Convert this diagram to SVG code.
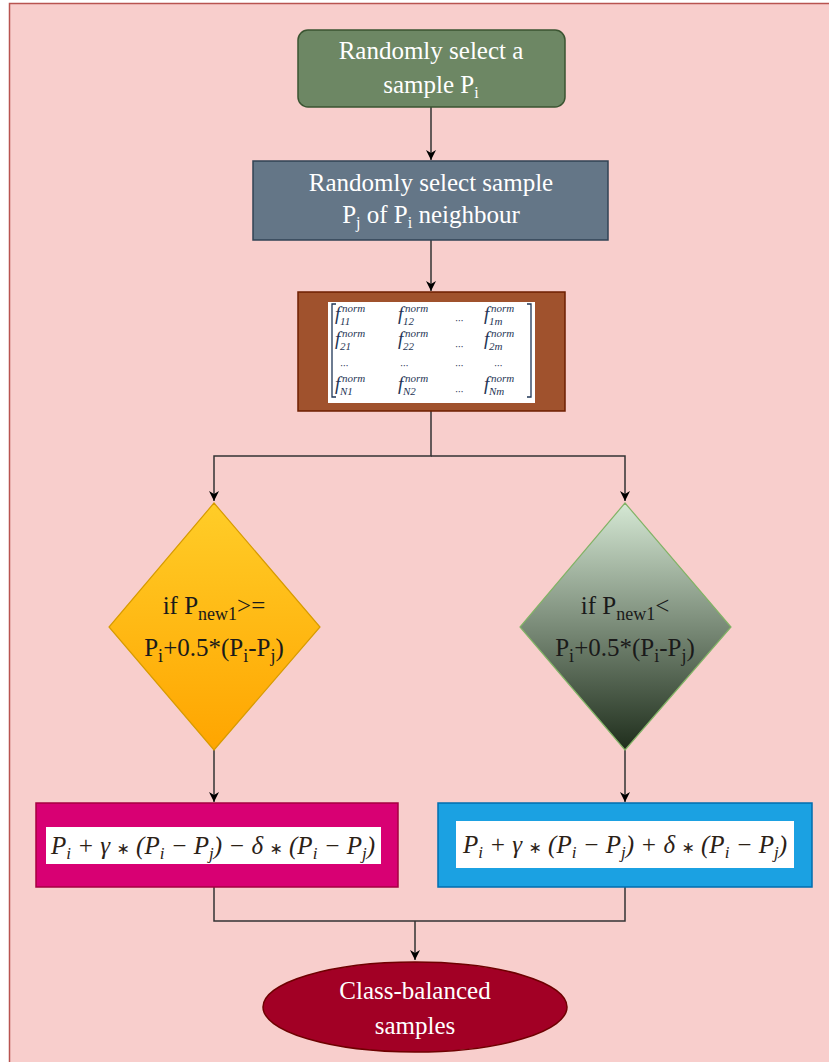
<svg xmlns="http://www.w3.org/2000/svg" width="829" height="1062" viewBox="0 0 829 1062">
<defs>
<linearGradient id="gOrange" x1="0" y1="0" x2="0" y2="1"><stop offset="0" stop-color="#ffcd28"/><stop offset="1" stop-color="#ffa500"/></linearGradient>
<linearGradient id="gGreen" x1="0" y1="0" x2="0" y2="1"><stop offset="0" stop-color="#d5e8d4"/><stop offset="1" stop-color="#1f2e1c"/></linearGradient>
<marker id="arr" viewBox="0 0 10 10" refX="10" refY="5" markerWidth="10" markerHeight="10" markerUnits="userSpaceOnUse" orient="auto"><path d="M0,0 L10,5 L0,10 L3,5 Z" fill="#000"/></marker>
<style>
.lbl{font-family:"Liberation Serif","Times New Roman",serif;font-size:25px;fill:#fff;text-anchor:middle}
.dl{font-family:"Liberation Serif","Times New Roman",serif;font-size:25px;fill:#1a1a1a;text-anchor:middle}
.math{font-family:"Liberation Serif",serif;font-style:italic;font-size:25px;fill:#2b2116}
.op{font-family:"DejaVu Sans",sans-serif;font-style:normal;font-size:16px}
.mx{font-family:"Liberation Serif",serif;font-style:italic;fill:#1f3656;font-size:19px}
.sm{font-size:11px}
.conn{fill:none;stroke:#333;stroke-width:1.5}
</style>
</defs>
<rect x="0" y="0" width="829" height="1062" fill="#fff"/>
<rect x="9.5" y="3.5" width="830" height="1070" fill="#f8cecc" stroke="#b85450" stroke-width="1.5"/>

<g id="connectors">
<path class="conn" d="M431,107 V160" marker-end="url(#arr)"/>
<path class="conn" d="M431,240 V291" marker-end="url(#arr)"/>
<path class="conn" d="M431,411 V456 H214 V501" marker-end="url(#arr)"/>
<path class="conn" d="M431,456 H625 V501" marker-end="url(#arr)"/>
<path class="conn" d="M214,750 V802" marker-end="url(#arr)"/>
<path class="conn" d="M625,750 V802" marker-end="url(#arr)"/>
<path class="conn" d="M214,887 V921 H625 V887"/>
<path class="conn" d="M415,921 V960" marker-end="url(#arr)"/>
</g>

<g id="n1">
<rect x="298" y="30" width="267" height="77" rx="10" fill="#6d8764" stroke="#3a5431" stroke-width="1.5"/>
<text class="lbl" x="431" y="59">Randomly select a</text>
<text class="lbl" x="431" y="93">sample P<tspan font-size="16" dy="5">i</tspan></text>
</g>

<g id="n2">
<rect x="253" y="161" width="355" height="79" fill="#647687" stroke="#314354" stroke-width="1.5"/>
<text class="lbl" x="431" y="191">Randomly select sample</text>
<text class="lbl" x="431" y="223">P<tspan font-size="16" dy="5">j</tspan><tspan dy="-5"> of P</tspan><tspan font-size="16" dy="5">i</tspan><tspan dy="-5"> neighbour</tspan></text>
</g>

<g id="n3">
<rect x="298" y="292" width="267" height="119" fill="#a0522d" stroke="#6d1f00" stroke-width="1.5"/>
<rect x="328" y="302" width="207" height="101" fill="#fff"/>
<path d="M336,304 H332 V397 H336" fill="none" stroke="#1f3656" stroke-width="1.3"/>
<path d="M527,304 H531 V397 H527" fill="none" stroke="#1f3656" stroke-width="1.3"/>
<g class="mx">
<text x="335" y="320">f</text><text class="sm" x="342" y="312">norm</text><text class="sm" x="340" y="325">11</text>
<text x="398" y="320">f</text><text class="sm" x="405" y="312">norm</text><text class="sm" x="403" y="325">12</text>
<text class="sm" x="455" y="324">···</text>
<text x="484" y="320">f</text><text class="sm" x="491" y="312">norm</text><text class="sm" x="489" y="325">1m</text>
<text x="335" y="345">f</text><text class="sm" x="342" y="337">norm</text><text class="sm" x="340" y="350">21</text>
<text x="398" y="345">f</text><text class="sm" x="405" y="337">norm</text><text class="sm" x="403" y="350">22</text>
<text class="sm" x="455" y="350">···</text>
<text x="484" y="345">f</text><text class="sm" x="491" y="337">norm</text><text class="sm" x="489" y="350">2m</text>
<text class="sm" x="340" y="369">···</text>
<text class="sm" x="400" y="369">···</text>
<text class="sm" x="455" y="369">···</text>
<text class="sm" x="494" y="369">···</text>
<text x="335" y="390">f</text><text class="sm" x="342" y="382">norm</text><text class="sm" x="340" y="395">N1</text>
<text x="398" y="390">f</text><text class="sm" x="405" y="382">norm</text><text class="sm" x="403" y="395">N2</text>
<text class="sm" x="455" y="395">···</text>
<text x="484" y="390">f</text><text class="sm" x="491" y="382">norm</text><text class="sm" x="489" y="395">Nm</text>
</g>
</g>

<g id="n4">
<polygon points="214,503 320,627 214,750 109,627" fill="url(#gOrange)" stroke="#d79b00" stroke-width="1.2"/>
<text class="dl" x="214" y="614">if P<tspan font-size="18" dy="6">new1</tspan><tspan dy="-6">&gt;=</tspan></text>
<text class="dl" x="214" y="656">P<tspan font-size="18" dy="6">i</tspan><tspan dy="-6">+0.5*(P</tspan><tspan font-size="18" dy="6">i</tspan><tspan dy="-6">-P</tspan><tspan font-size="18" dy="6">j</tspan><tspan dy="-6">)</tspan></text>
</g>

<g id="n5">
<polygon points="625,503 731,627 625,750 520,627" fill="url(#gGreen)" stroke="#82b366" stroke-width="1.2"/>
<text class="dl" x="625" y="614">if P<tspan font-size="18" dy="6">new1</tspan><tspan dy="-6">&lt;</tspan></text>
<text class="dl" x="625" y="656">P<tspan font-size="18" dy="6">i</tspan><tspan dy="-6">+0.5*(P</tspan><tspan font-size="18" dy="6">i</tspan><tspan dy="-6">-P</tspan><tspan font-size="18" dy="6">j</tspan><tspan dy="-6">)</tspan></text>
</g>

<g id="n6">
<rect x="36" y="803" width="362" height="84" fill="#d80073" stroke="#a50040" stroke-width="1.5"/>
<rect x="46" y="827" width="335" height="37" fill="#fff"/>
<text class="math" x="213" y="854" text-anchor="middle">P<tspan font-size="17" dy="5">i</tspan><tspan dy="-5"> + γ </tspan><tspan class="op">∗</tspan><tspan> (P</tspan><tspan font-size="17" dy="5">i</tspan><tspan dy="-5"> − P</tspan><tspan font-size="17" dy="5">j</tspan><tspan dy="-5">) − δ </tspan><tspan class="op">∗</tspan><tspan> (P</tspan><tspan font-size="17" dy="5">i</tspan><tspan dy="-5"> − P</tspan><tspan font-size="17" dy="5">j</tspan><tspan dy="-5">)</tspan></text>
</g>

<g id="n7">
<rect x="438" y="803" width="374" height="84" fill="#1ba1e2" stroke="#006eaf" stroke-width="1.5"/>
<rect x="456" y="821" width="338" height="47" fill="#fff"/>
<text class="math" x="625" y="853" text-anchor="middle">P<tspan font-size="17" dy="5">i</tspan><tspan dy="-5"> + γ </tspan><tspan class="op">∗</tspan><tspan> (P</tspan><tspan font-size="17" dy="5">i</tspan><tspan dy="-5"> − P</tspan><tspan font-size="17" dy="5">j</tspan><tspan dy="-5">) + δ </tspan><tspan class="op">∗</tspan><tspan> (P</tspan><tspan font-size="17" dy="5">i</tspan><tspan dy="-5"> − P</tspan><tspan font-size="17" dy="5">j</tspan><tspan dy="-5">)</tspan></text>
</g>

<g id="n8">
<ellipse cx="415" cy="1007" rx="152" ry="45" fill="#a20025" stroke="#6f0000" stroke-width="1.5"/>
<text class="lbl" x="415" y="999">Class-balanced</text>
<text class="lbl" x="415" y="1034">samples</text>
</g>
</svg>
